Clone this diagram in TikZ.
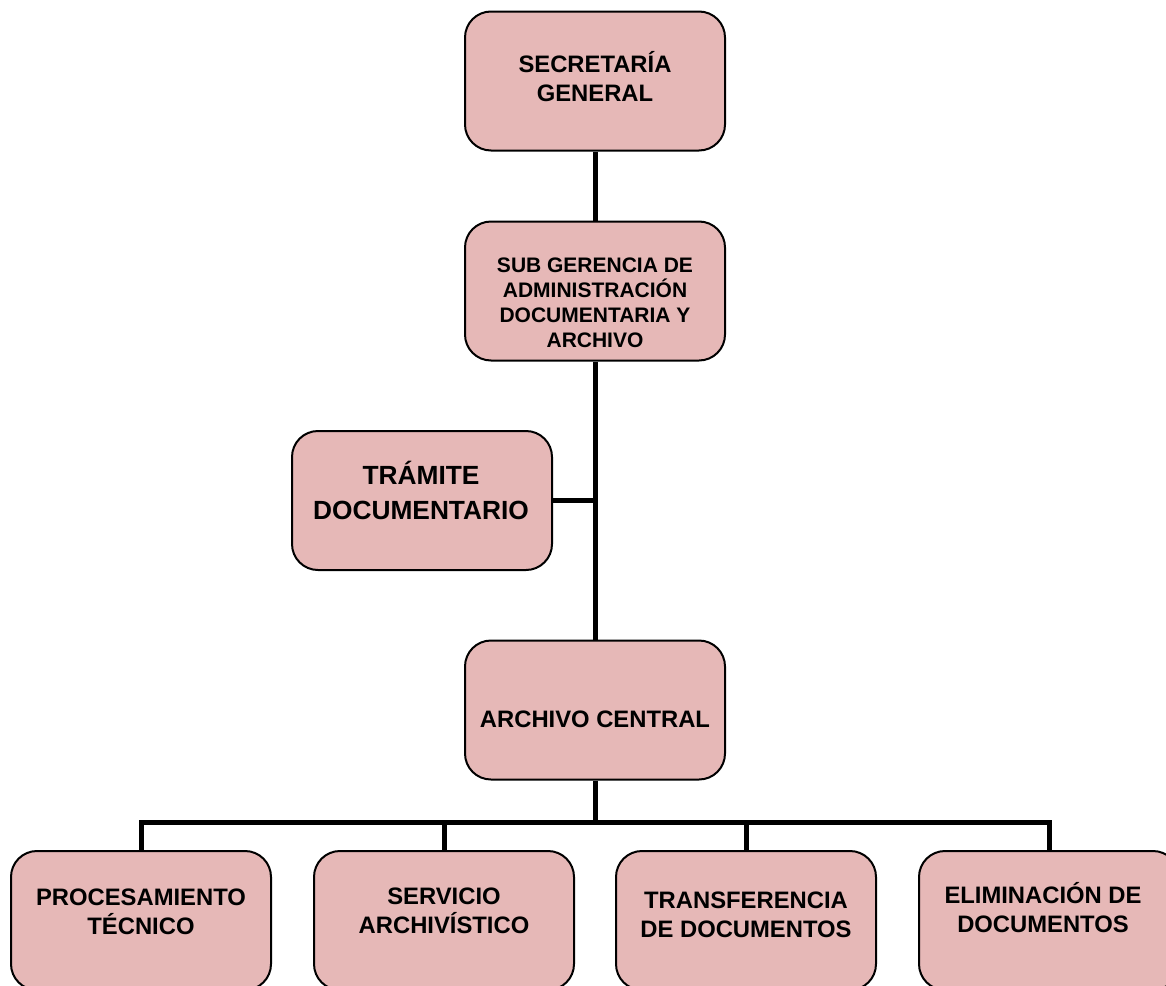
\documentclass[tikz,border=0pt]{standalone}
\usepackage{fontspec}
\setmainfont{Liberation Sans}
\definecolor{boxpink}{RGB}{230,184,183}
\tikzset{
  unitbox/.style={draw=black, line width=2pt, fill=boxpink, rounded corners=26pt,
    minimum width=260pt, minimum height=139pt, inner sep=0pt},
  % captions are placed by the baseline of their last line
  caption/.style={anchor=base, align=center, inner sep=0pt,
    font=\fontsize{23.8}{29}\selectfont\bfseries},
  smallcaption/.style={caption, font=\fontsize{21}{24.7}\selectfont\bfseries},
  bigcaption/.style={caption, font=\fontsize{26.3}{35}\selectfont\bfseries},
  link/.style={line width=5pt, draw=black}
}
\begin{document}
\begin{tikzpicture}[x=1pt, y=-1pt]
\useasboundingbox (0,0) rectangle (1166,985);

% boxes
\node[unitbox] (sg)   at (595,81)    {};
\node[unitbox] (sub)  at (595,291)   {};
\node[unitbox] (tram) at (422,500.5) {};
\node[unitbox] (ac)   at (595,710)   {};
\node[unitbox] (b1)   at (141,920.5)  {};
\node[unitbox] (b2)   at (444,920.5)  {};
\node[unitbox] (b3)   at (746,920.5)  {};
\node[unitbox] (b4)   at (1049,920.5) {};

% connectors
\coordinate (bus) at (595,822);
\draw[link] (sg.south) -- (sub.north);
\draw[link] (sub.south) -- (ac.north);
\draw[link] (tram.east) -- (tram.east -| sub.south);
\draw[link] (ac.south) -- (bus);
\draw[link] (b1.north) -- (b1.north |- bus) -- (b4.north |- bus) -- (b4.north);
\draw[link] (b2.north) -- (b2.north |- bus);
\draw[link] (b3.north) -- (b3.north |- bus);

% box texts
\node[caption]      (tsg)   at (595,101)  {SECRETARÍA\\GENERAL};
\node[smallcaption] (tsub)  at (595,347)  {SUB GERENCIA DE\\ADMINISTRACIÓN\\DOCUMENTARIA Y\\ARCHIVO};
\node[bigcaption]   (ttram) at (421,519)  {TRÁMITE\\DOCUMENTARIO};
\node[caption]      (tac)   at (595,727)  {ARCHIVO CENTRAL};
\node[caption]      (tb1)   at (141,934)  {PROCESAMIENTO\\TÉCNICO};
\node[caption]      (tb2)   at (444,933)  {SERVICIO\\ARCHIVÍSTICO};
\node[caption]      (tb3)   at (746,937)  {TRANSFERENCIA\\DE DOCUMENTOS};
\node[caption]      (tb4)   at (1043,932) {ELIMINACIÓN DE\\DOCUMENTOS};
\end{tikzpicture}
\end{document}
